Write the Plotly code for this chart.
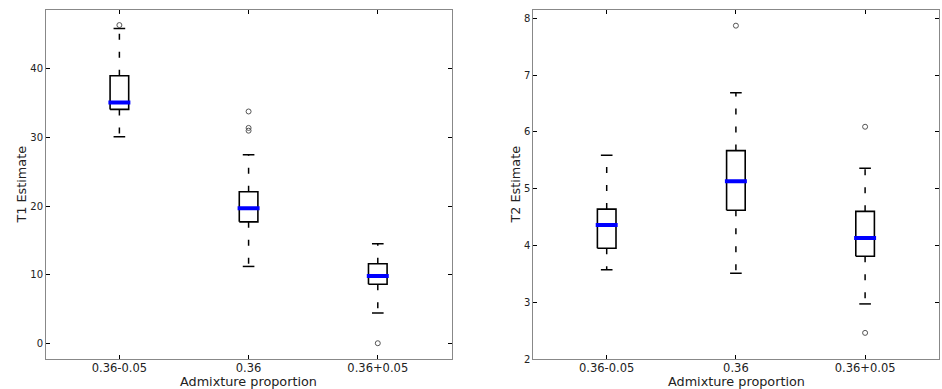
import plotly.graph_objects as go

categories = ["0.36-0.05", "0.36", "0.36+0.05"]

# T1 estimate box statistics
t1_q1 = [34.1, 17.7, 8.6]
t1_median = [35.1, 19.7, 9.8]
t1_q3 = [39.0, 22.1, 11.6]
t1_lower = [30.1, 11.2, 4.4]
t1_upper = [45.9, 27.5, 14.5]
t1_outliers = [[46.4], [33.8, 31.4, 31.0], [0.0]]

# T2 estimate box statistics
t2_q1 = [3.95, 4.62, 3.81]
t2_median = [4.36, 5.13, 4.13]
t2_q3 = [4.64, 5.67, 4.60]
t2_lower = [3.57, 3.51, 2.97]
t2_upper = [5.59, 6.69, 5.36]
t2_outliers = [[], [7.87], [6.09, 2.46]]

BOX_HW = 0.072
MED_HW = 0.085
CAP_HW = 0.045
FONT = "DejaVu Sans"

fig = go.Figure()


def add_panel(q1, med, q3, lo, hi, outs, xa, ya):
    for i in range(len(categories)):
        x = i + 1
        # whiskers (dashed)
        fig.add_trace(go.Scatter(x=[x, x], y=[q3[i], hi[i]], mode="lines",
                                 line=dict(color="black", width=1.5, dash="6px,12px"),
                                 xaxis=xa, yaxis=ya, showlegend=False, hoverinfo="skip"))
        fig.add_trace(go.Scatter(x=[x, x], y=[q1[i], lo[i]], mode="lines",
                                 line=dict(color="black", width=1.5, dash="6px,12px"),
                                 xaxis=xa, yaxis=ya, showlegend=False, hoverinfo="skip"))
        # caps
        for v in (lo[i], hi[i]):
            fig.add_trace(go.Scatter(x=[x - CAP_HW, x + CAP_HW], y=[v, v], mode="lines",
                                     line=dict(color="black", width=1.5),
                                     xaxis=xa, yaxis=ya, showlegend=False, hoverinfo="skip"))
        # box
        fig.add_trace(go.Scatter(x=[x - BOX_HW, x + BOX_HW, x + BOX_HW, x - BOX_HW, x - BOX_HW],
                                 y=[q1[i], q1[i], q3[i], q3[i], q1[i]], mode="lines",
                                 fill="toself", fillcolor="white",
                                 line=dict(color="black", width=1.6),
                                 xaxis=xa, yaxis=ya, showlegend=False, hoverinfo="skip"))
        # median
        fig.add_trace(go.Scatter(x=[x - MED_HW, x + MED_HW], y=[med[i], med[i]], mode="lines",
                                 line=dict(color="#0000ff", width=4),
                                 xaxis=xa, yaxis=ya, showlegend=False, hoverinfo="skip"))
        # outliers
        if outs[i]:
            fig.add_trace(go.Scatter(x=[x] * len(outs[i]), y=outs[i], mode="markers",
                                     marker=dict(symbol="circle-open", size=5,
                                                 color="#555555", line=dict(width=1)),
                                     xaxis=xa, yaxis=ya, showlegend=False, hoverinfo="skip"))


add_panel(t1_q1, t1_median, t1_q3, t1_lower, t1_upper, t1_outliers, "x", "y")
add_panel(t2_q1, t2_median, t2_q3, t2_lower, t2_upper, t2_outliers, "x2", "y2")

TXT = "#222222"
axis_common = dict(showgrid=False, zeroline=False, showline=True, linecolor="#888888",
                   linewidth=1, mirror="ticks", ticks="inside", ticklen=4, tickcolor="black",
                   automargin=False, ticklabelstandoff=0,
                   tickfont=dict(family=FONT, size=10, color=TXT))

xcommon = dict(axis_common, tickmode="array", tickvals=[1, 2, 3], ticktext=categories,
               range=[0.432, 3.572], ticklabelstandoff=-2,
               tickfont=dict(family=FONT, size=11.5, color=TXT))

fig.update_layout(
    template="none",
    width=942, height=389,
    margin=dict(l=46, r=3, t=10, b=30, autoexpand=False),
    paper_bgcolor="white", plot_bgcolor="white",
    font=dict(family=FONT, color=TXT),
    xaxis=dict(xcommon, domain=[0, 0.4543], anchor="y"),
    xaxis2=dict(xcommon, domain=[0.5457, 1], anchor="y2"),
    yaxis=dict(axis_common, range=[-2.3, 48.6], tickvals=[0, 10, 20, 30, 40], anchor="x"),
    yaxis2=dict(axis_common, range=[2.0, 8.146], tickvals=[2, 3, 4, 5, 6, 7, 8], anchor="x2"),
)

# axis titles
title_font = dict(family=FONT, size=12.8, color=TXT)
for xc in (0.4543 / 2, (0.5457 + 1) / 2):
    fig.add_annotation(text="Admixture proportion", xref="paper", yref="paper",
                       x=xc, y=-0.065, xanchor="center", yanchor="middle",
                       showarrow=False, font=title_font)
fig.add_annotation(text="T1 Estimate", xref="paper", yref="paper", textangle=-90,
                   x=(21 - 46) / 893, y=0.5, xanchor="center", yanchor="middle",
                   showarrow=False, font=title_font)
fig.add_annotation(text="T2 Estimate", xref="paper", yref="paper", textangle=-90,
                   x=(515 - 46) / 893, y=0.5, xanchor="center", yanchor="middle",
                   showarrow=False, font=title_font)

fig.write_html("out.html", config={"displayModeBar": False},
               post_script="document.body.style.margin='0';")
